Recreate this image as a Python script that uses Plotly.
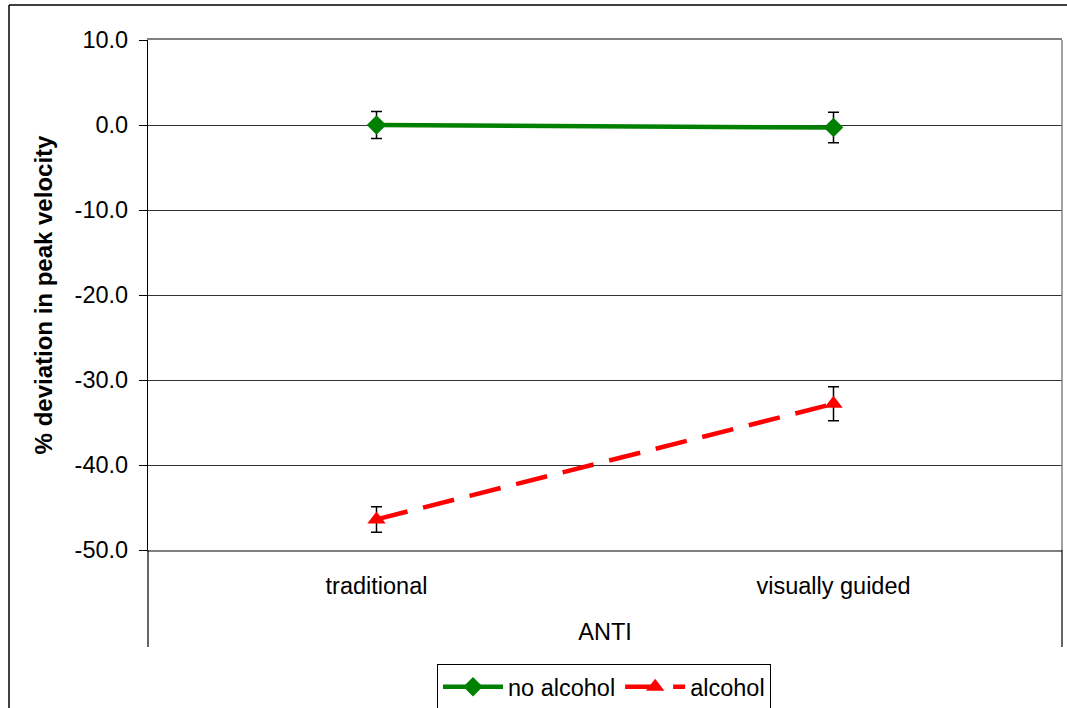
import plotly.graph_objects as go

categories = ["traditional", "visually guided"]
no_alcohol = [0.0, -0.3]
no_alcohol_err = [1.6, 1.8]
alcohol = [-46.4, -32.8]
alcohol_err = [1.5, 2.0]
y_ticks = [10, 0, -10, -20, -30, -40, -50]

W, H = 1067, 708
L, R, T, B = 148, 1062, 40, 550
FONT = "Liberation Sans, Arial, sans-serif"
FS = 23.5

def px_x(p):
    return (p - L) / (R - L)

def px_y(p):
    return (B - p) / (B - T)

fig = go.Figure()
fig.add_trace(go.Scatter(
    x=categories, y=no_alcohol, name="no alcohol", mode="lines+markers",
    line=dict(color="#008000", width=4.5),
    marker=dict(symbol="diamond", size=15, color="#008000"),
    error_y=dict(type="data", array=no_alcohol_err, color="black", thickness=1.5, width=5.5),
))
fig.add_trace(go.Scatter(
    x=categories, y=alcohol, name="alcohol", mode="lines+markers",
    line=dict(color="#FF0000", width=4.5, dash="32px,16px"),
    marker=dict(symbol="triangle-up", size=16, color="#FF0000"),
    error_y=dict(type="data", array=alcohol_err, color="black", thickness=1.5, width=5.5),
))

shapes = [
    dict(type="line", xref="paper", yref="paper", x0=1, x1=1, y0=0, y1=1,
         line=dict(color="#808080", width=1.5)),
    dict(type="line", xref="paper", yref="paper", x0=0, x1=0, y0=px_y(647), y1=0,
         line=dict(color="black", width=1.2)),
    dict(type="line", xref="paper", yref="paper", x0=1, x1=1, y0=px_y(647), y1=0,
         line=dict(color="black", width=1.2)),
    dict(type="line", xref="paper", yref="paper", x0=px_x(9), x1=px_x(9), y0=px_y(712), y1=px_y(5),
         line=dict(color="black", width=1.5)),
    dict(type="line", xref="paper", yref="paper", x0=px_x(9), x1=px_x(1072), y0=px_y(5), y1=px_y(5),
         line=dict(color="black", width=1.5)),
]

fig.update_layout(
    width=W, height=H,
    margin=dict(l=L, r=W - R, t=T, b=H - B, autoexpand=False),
    paper_bgcolor="white", plot_bgcolor="white",
    font=dict(family=FONT, size=FS, color="black"),
    showlegend=True,
    legend=dict(orientation="h", xanchor="center", x=px_x(604), yanchor="top", y=px_y(664),
                bordercolor="black", borderwidth=1, font=dict(size=FS, family=FONT),
                itemwidth=60, tracegroupgap=0),
    shapes=shapes,
    xaxis=dict(
        type="category", range=[-0.5, 1.5], showgrid=False, zeroline=False,
        showline=True, linecolor="#808080", linewidth=1.5, mirror=True,
        ticks="", tickfont=dict(size=FS, family=FONT), ticklabelstandoff=14,
        title=dict(text="ANTI", font=dict(size=FS, family=FONT), standoff=26),
    ),
    yaxis=dict(
        range=[-50, 10], tickvals=y_ticks, ticktext=[f"{v:.1f}" for v in y_ticks],
        showgrid=True, gridcolor="#333333", gridwidth=1, zeroline=False,
        showline=True, linecolor="black", linewidth=1.2,
        ticks="outside", ticklen=8, tickcolor="black", tickwidth=1,
        tickfont=dict(size=FS, family=FONT), ticklabelstandoff=6,
        title=dict(text="<b>% deviation in peak velocity</b>", font=dict(size=24, family=FONT), standoff=15),
    ),
)

fig.write_html("out.html")
